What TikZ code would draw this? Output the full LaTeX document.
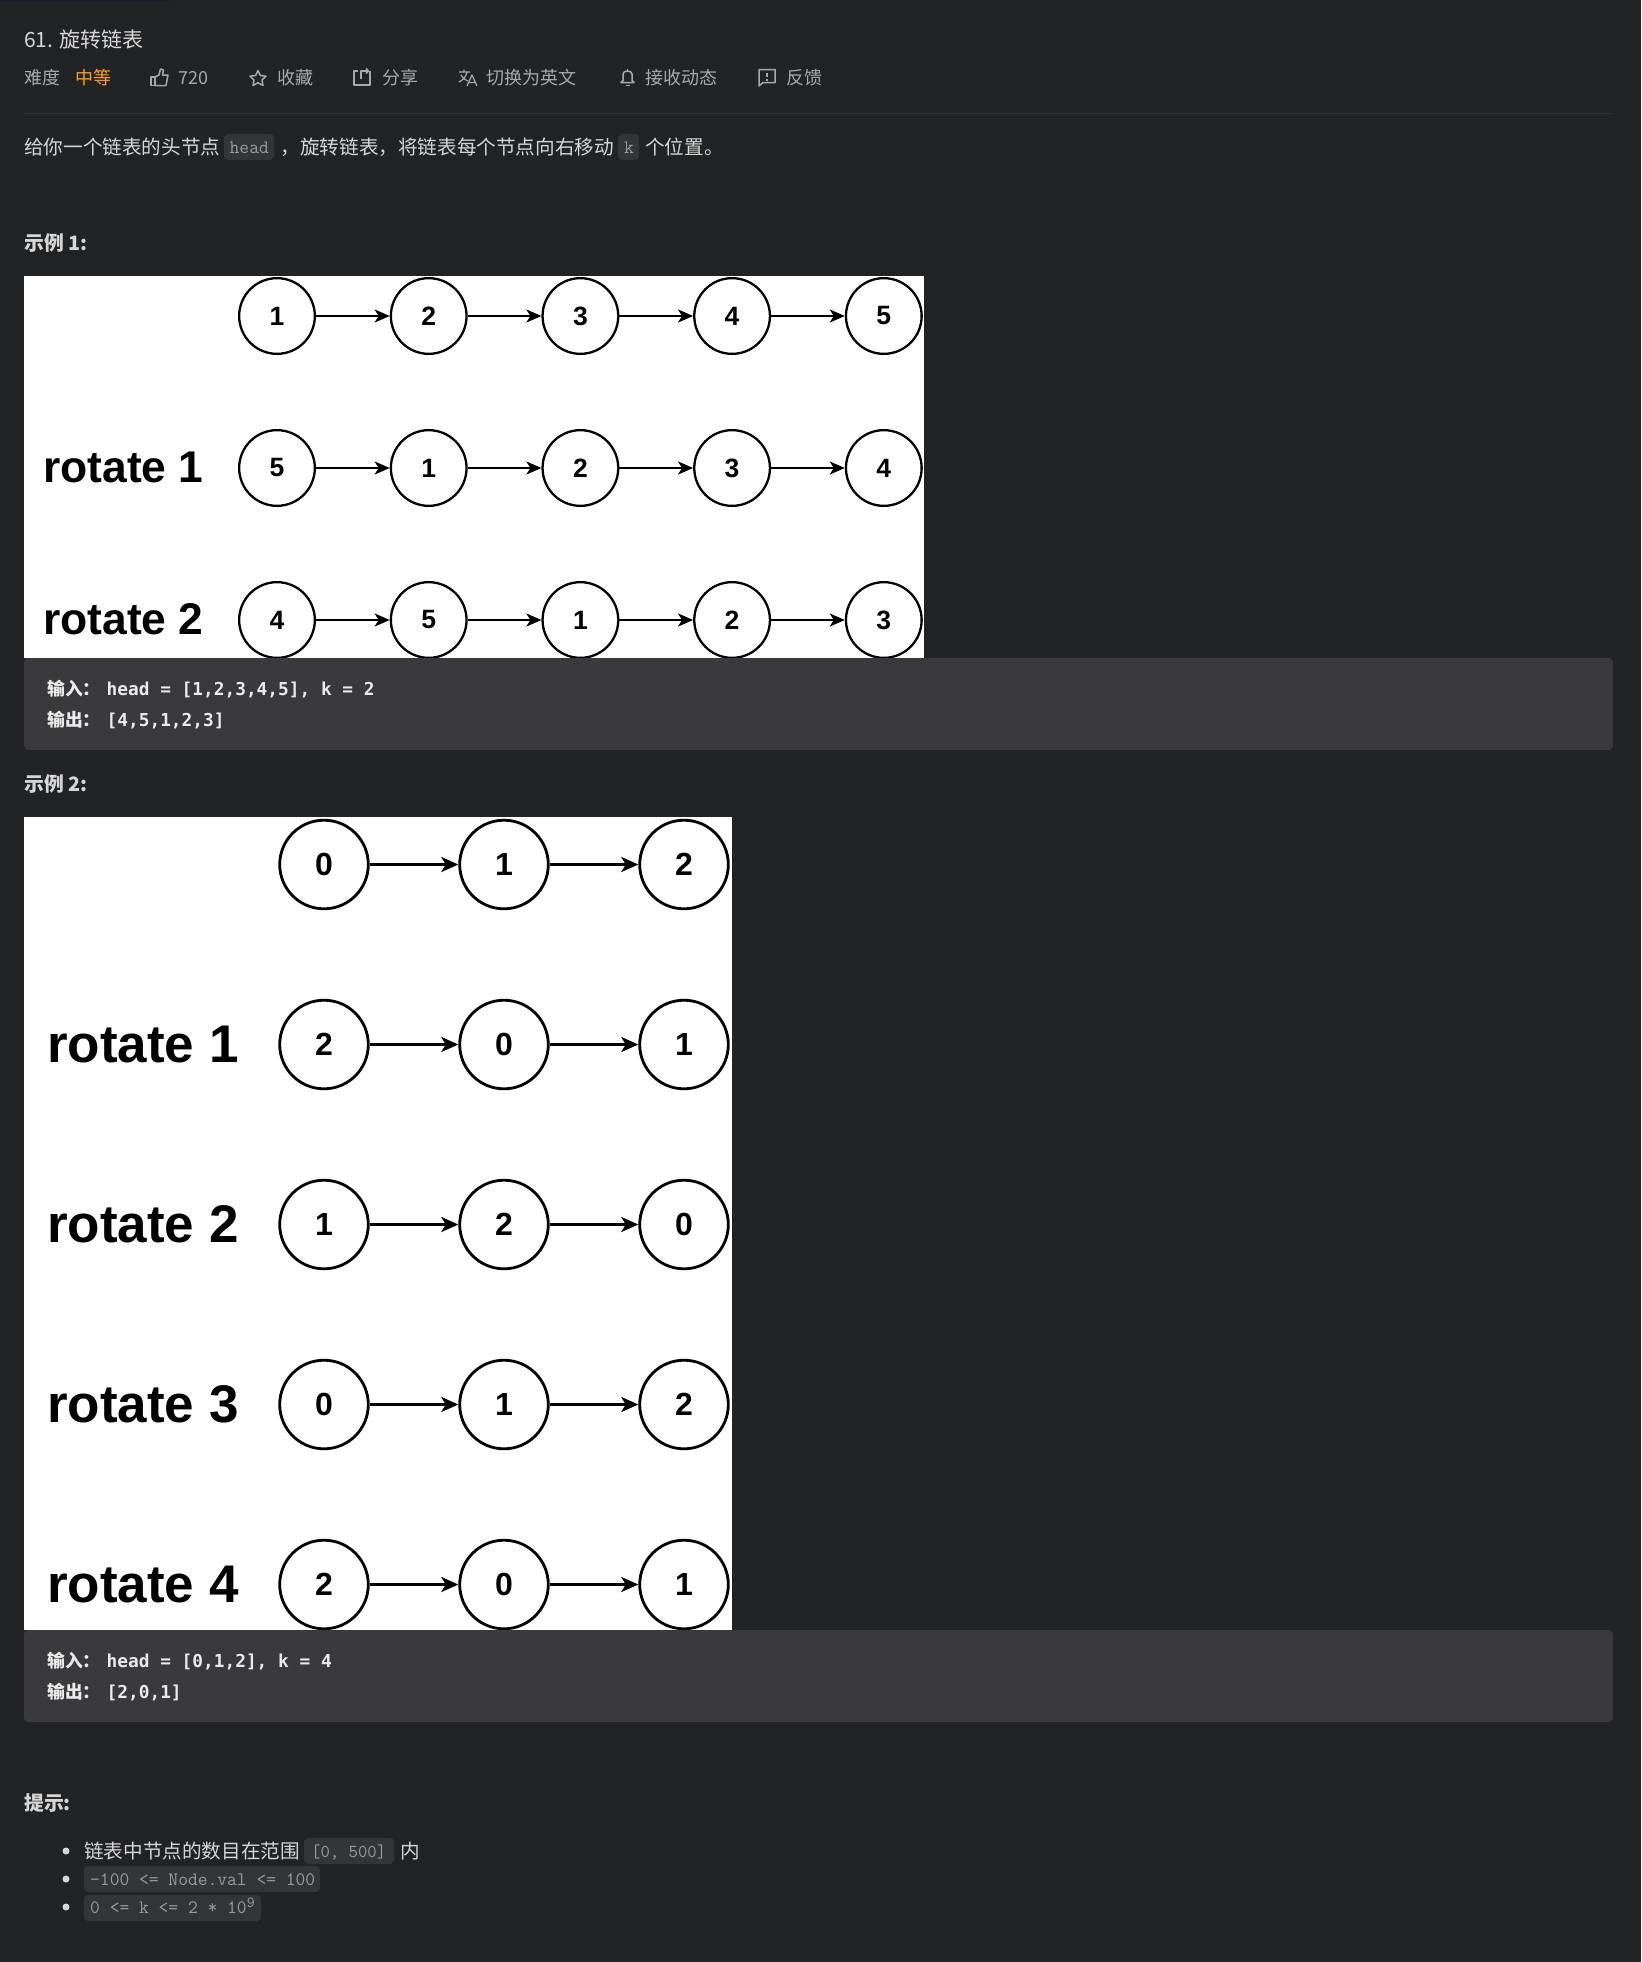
\documentclass[tikz,border=0pt]{standalone}
\usepackage{fontspec}
\setmainfont{Noto Sans CJK SC}
\setmonofont{Latin Modern Mono}
\newfontfamily\codefont{DejaVu Sans Mono}
\newfontfamily\figfont{Liberation Sans}
\usepackage{xcolor}
\usetikzlibrary{arrows.meta,positioning}
\definecolor{pagebg}{HTML}{222325}
\definecolor{codebg}{HTML}{3A3A3C}
\definecolor{chipbg}{HTML}{343537}
\definecolor{bodytxt}{HTML}{D6D6D6}
\definecolor{metatxt}{HTML}{A8A9AA}
\definecolor{chiptxt}{HTML}{9A9B9D}
\definecolor{hardtxt}{HTML}{FFA116}
\newcommand{\fsize}[1]{\fontsize{#1}{#1}\selectfont}
\tikzset{
  txt/.style={anchor=base west,inner sep=0pt,text=bodytxt,font=\fsize{19.6}},
  meta/.style={txt,text=metatxt,font=\fsize{18}},
  heading/.style={txt,font=\fsize{19.8}\bfseries},
  chip/.style={fill=chipbg,rounded corners=4pt},
  chiptext/.style={txt,text=chiptxt,font=\fsize{19}\ttfamily},
  codetext/.style={txt,text=white!92!black,font=\fsize{17.8}\codefont\bfseries},
  icon/.style={draw=metatxt,line width=1.5pt,line join=round},
  listnode/.style={circle,draw=black,line width=2.3pt,fill=white,text=black,inner sep=0pt,minimum size=75.7pt,font=\fsize{26.5}\figfont\bfseries},
  biglistnode/.style={listnode,line width=2.8pt,minimum size=88.6pt,font=\fsize{32}\figfont\bfseries},
  linkarrow/.style={draw=black,line width=2.3pt,-{Stealth[length=15pt,width=13pt,inset=4pt]}},
  biglinkarrow/.style={draw=black,line width=2.8pt,-{Stealth[length=17pt,width=15pt,inset=4.5pt]}},
  rowlabel/.style={anchor=base west,inner sep=0pt,text=black,font=\fsize{44.4}\figfont\bfseries},
  bigrowlabel/.style={rowlabel,font=\fsize{53}\figfont\bfseries},
}
\newcommand{\inlabel}[2]{\makebox[59.5pt][l]{\bfseries\rmfamily #1}#2}
\begin{document}
\begin{tikzpicture}[x=1pt, y=-1pt]
  % page
  \fill[pagebg] (0,0) rectangle (1641,1962);
  \useasboundingbox (0,0) rectangle (1641,1962);
  \fill[black!70!blue!20!pagebg] (0,0) rectangle (172,1.2);

  % header
  \node[txt,font=\fsize{21}] (title) at (24,47) {61. 旋转链表};
  \node[meta] (level) at (24,84) {难度};
  \node[meta,text=hardtxt] (levelval) at (75,84) {中等};
  \node[meta] (likes) at (178,84) {720};
  \node[meta] (fav) at (277,84) {收藏};
  \node[meta] (share) at (382,84) {分享};
  \node[meta] (lang) at (486,84) {切换为英文};
  \node[meta] (sub) at (645,84) {接收动态};
  \node[meta] (report) at (786,84) {反馈};

  % header icons
  \draw[icon] (151,77) -- (155,77) -- (155,85.5) -- (151,85.5) -- cycle;
  \draw[icon] (155,77) -- (159,75) -- (160.5,69) -- (163.5,70) -- (162.5,75) -- (168,75) -- (166,85.5) -- (155,85.5);
  \draw[icon] (258,70.5) -- (260.4,75.5) -- (266,76.2) -- (262,80) -- (263,85.5) -- (258,82.8) -- (253,85.5) -- (254,80) -- (250,76.2) -- (255.6,75.5) -- cycle;
  \draw[icon] (358,71) -- (354,71) -- (354,85) -- (370,85) -- (370,71);
  \draw[icon] (361,79) -- (361,71) -- (367,71);
  \draw[icon] (366,68.5) -- (368.5,71) -- (366,73.5);
  \draw[icon,line width=1.2pt] (459,72) -- (470,72) (464,69.5) -- (464,72) (467,72) .. controls (466,77) and (463,80) .. (459,82) (461,75) .. controls (462,78) and (465,80) .. (468,81);
  \draw[icon,line width=1.2pt] (467,86) -- (472,75) -- (477,86) (469,82.5) -- (475,82.5);
  \draw[icon] (621,82.5) -- (623,80.5) -- (623,74) .. controls (623,70) and (632,70) .. (632,74) -- (632,80.5) -- (634,82.5) -- cycle;
  \draw[icon] (625.5,85.5) -- (629.5,85.5) (627.5,68.5) -- (627.5,70.5);
  \draw[icon] (759,69.5) -- (775,69.5) -- (775,82.5) -- (763,82.5) -- (759,86) -- cycle;
  \draw[icon] (767,72.5) -- (767,77) (767,78.5) -- (767,80.5);
  \draw[pagebg!93!white,line width=1pt] (24,113) -- (1613,113);

  % description
  \fill[chip] (224,134) rectangle (274,160);
  \fill[chip] (618,134) rectangle (639,160);
  \node[txt] (desca) at (24,154.5) {给你一个链表的头节点};
  \node[chiptext] (headchip) at (229.5,153) {head};
  \node[txt] (descb) at (280,154.5) {，};
  \node[txt] (descc) at (300,154.5) {旋转链表，将链表每个节点向右移动};
  \node[chiptext] (kchip) at (624,153) {k};
  \node[txt] (descd) at (645,154.5) {个位置。};

  % example 1
  \node[heading] (exone) at (24,250) {示例 1:};
  \fill[white] (24,276) rectangle (924,658);
  \foreach \r/\y/\vals in {0/316/{1,2,3,4,5},1/468/{5,1,2,3,4},2/620/{4,5,1,2,3}}
    \foreach \v [count=\c, remember=\c as \p (initially 0)] in \vals {
      \node[listnode] (a\r-\c) at ({125.3+151.7*\c},\y) {\v};
      \ifnum\c>1 \draw[linkarrow] (a\r-\p) -- (a\r-\c); \fi
    };
  \node[rowlabel] (rotone) at (43,482.5) {rotate 1};
  \node[rowlabel] (rottwo) at (43,634) {rotate 2};

  \fill[codebg,rounded corners=4pt] (24,658) rectangle (1613,750);
  \node[codetext] (inone) at (47,695) {\inlabel{输入：}{head = [1,2,3,4,5], k = 2}};
  \node[codetext] (outone) at (47,726) {\inlabel{输出：}{[4,5,1,2,3]}};

  % example 2
  \node[heading] (extwo) at (24,791) {示例 2:};
  \fill[white] (24,817) rectangle (732,1630);
  \foreach \r/\y/\vals in {0/864.5/{0,1,2},1/1044.5/{2,0,1},2/1224.5/{1,2,0},3/1404.5/{0,1,2},4/1584.5/{2,0,1}}
    \foreach \v [count=\c, remember=\c as \p (initially 0)] in \vals {
      \node[biglistnode] (b\r-\c) at ({144+180*\c},\y) {\v};
      \ifnum\c>1 \draw[biglinkarrow] (b\r-\p) -- (b\r-\c); \fi
    };
  \foreach \r/\y in {1/1062,2/1242,3/1422,4/1602}
    \node[bigrowlabel] (rot\r) at (47,\y) {rotate \r};

  \fill[codebg,rounded corners=4pt] (24,1630) rectangle (1613,1722);
  \node[codetext] (intwo) at (47,1667) {\inlabel{输入：}{head = [0,1,2], k = 4}};
  \node[codetext] (outtwo) at (47,1698) {\inlabel{输出：}{[2,0,1]}};

  % hints
  \node[heading] (hints) at (24,1810) {提示:};
  \foreach \y in {1851,1879,1907}
    \fill[bodytxt] (66,\y) circle (3.5pt);
  \fill[chip] (304,1838) rectangle (394,1864);
  \fill[chip] (84,1866) rectangle (320,1892);
  \fill[chip] (84,1895) rectangle (261,1921);
  \node[txt] (hintone) at (84,1858) {链表中节点的数目在范围};
  \node[chiptext,font=\fsize{18.2}\ttfamily] (rangechip) at (311,1857) {[0, 500]};
  \node[txt] (hintin) at (400,1858) {内};
  \node[chiptext] (valchip) at (90,1885) {-100 <= Node.val <= 100};
  \node[chiptext] (kmaxchip) at (90,1913.5) {0 <= k <= 2 * 10\raisebox{6pt}{\fsize{15.5}9}};
\end{tikzpicture}
\end{document}
